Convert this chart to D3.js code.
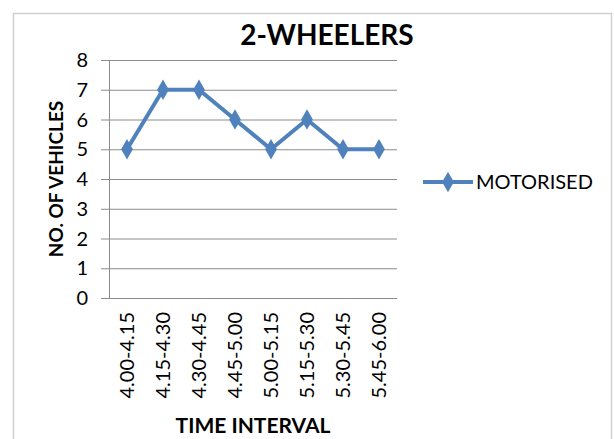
<!DOCTYPE html>
<html lang="en">
<head>
    <meta charset="UTF-8">
    <title>2-Wheelers</title>
    <script src="https://d3js.org/d3.v7.min.js"></script>
    <style>
        body {
            margin: 0;
            padding: 0;
            background-color: #fff;
            font-family: Lato, "Open Sans", sans-serif;
        }
    </style>
</head>
<body>
    <svg id="chart" width="614" height="439"></svg>
    <script>
        const categories = ["4.00-4.15", "4.15-4.30", "4.30-4.45", "4.45-5.00", "5.00-5.15", "5.15-5.30", "5.30-5.45", "5.45-6.00"];
        const motorised = [5, 7, 7, 6, 5, 6, 5, 5];
        const yTicks = [0, 1, 2, 3, 4, 5, 6, 7, 8];

        const width = 614, height = 439;
        const svg = d3.select("#chart");
        const margin = { left: 109, right: 217, top: 60, bottom: 141 };
        const lineColor = "#4f81bd";

        // outer chart border
        svg.append("rect")
            .attr("x", 13.5).attr("y", 13.5)
            .attr("width", 598).attr("height", 440)
            .attr("fill", "#fff").attr("stroke", "#d0d0d0").attr("stroke-width", 1.5);

        const x = d3.scaleBand().domain(categories).range([margin.left, width - margin.right]);
        const y = d3.scaleLinear().domain([0, 8]).range([height - margin.bottom, margin.top]);

        // gridlines
        svg.append("g")
            .selectAll("line")
            .data(yTicks)
            .enter().append("line")
            .attr("x1", margin.left - 8).attr("x2", width - margin.right)
            .attr("y1", d => y(d) + 0.5).attr("y2", d => y(d) + 0.5)
            .attr("stroke", "#8c8c8c").attr("stroke-width", 1);

        // y axis line
        svg.append("line")
            .attr("x1", margin.left + 0.5).attr("x2", margin.left + 0.5)
            .attr("y1", y(8)).attr("y2", y(0))
            .attr("stroke", "#8c8c8c");

        // y tick labels
        svg.append("g")
            .selectAll("text")
            .data(yTicks)
            .enter().append("text")
            .attr("x", margin.left - 21)
            .attr("y", d => y(d))
            .attr("dy", "0.35em")
            .attr("text-anchor", "end")
            .attr("font-size", 20)
            .attr("fill", "#000")
            .text(d => d);

        // x tick labels (rotated)
        svg.append("g")
            .selectAll("text")
            .data(categories)
            .enter().append("text")
            .attr("transform", d => `translate(${x(d) + x.bandwidth() / 2 + 7},${y(0) + 14}) rotate(-90)`)
            .attr("text-anchor", "end")
            .attr("font-size", 20)
            .attr("fill", "#000")
            .text(d => d);

        // line
        const line = d3.line()
            .x((d, i) => x(categories[i]) + x.bandwidth() / 2)
            .y(d => y(d));

        svg.append("path")
            .datum(motorised)
            .attr("d", line)
            .attr("fill", "none")
            .attr("stroke", lineColor)
            .attr("stroke-width", 4)
            .attr("stroke-linejoin", "round");

        const diamond = d3.symbol().type(d3.symbolDiamond).size(120);

        svg.append("g")
            .selectAll("path")
            .data(motorised)
            .enter().append("path")
            .attr("d", diamond)
            .attr("transform", (d, i) => `translate(${x(categories[i]) + x.bandwidth() / 2},${y(d)})`)
            .attr("fill", lineColor);

        // title
        svg.append("text")
            .attr("x", 327).attr("y", 45)
            .attr("text-anchor", "middle")
            .attr("font-size", 28).attr("font-weight", "bold")
            .text("2-WHEELERS");

        // axis titles
        svg.append("text")
            .attr("transform", `translate(63,${(y(0) + y(8)) / 2}) rotate(-90)`)
            .attr("text-anchor", "middle")
            .attr("font-size", 19).attr("font-weight", "bold")
            .text("NO. OF VEHICLES");

        svg.append("text")
            .attr("x", 253).attr("y", 433)
            .attr("text-anchor", "middle")
            .attr("font-size", 21).attr("font-weight", "bold")
            .text("TIME INTERVAL");

        // legend
        const legend = svg.append("g").attr("transform", "translate(423,182)");
        legend.append("line")
            .attr("x1", 0).attr("x2", 50).attr("y1", 0).attr("y2", 0)
            .attr("stroke", lineColor).attr("stroke-width", 4);
        legend.append("path")
            .attr("d", diamond)
            .attr("transform", "translate(25,0)")
            .attr("fill", lineColor);
        legend.append("text")
            .attr("x", 53).attr("y", 0).attr("dy", "0.35em")
            .attr("font-size", 20)
            .text("MOTORISED");
    </script>
</body>
</html>
